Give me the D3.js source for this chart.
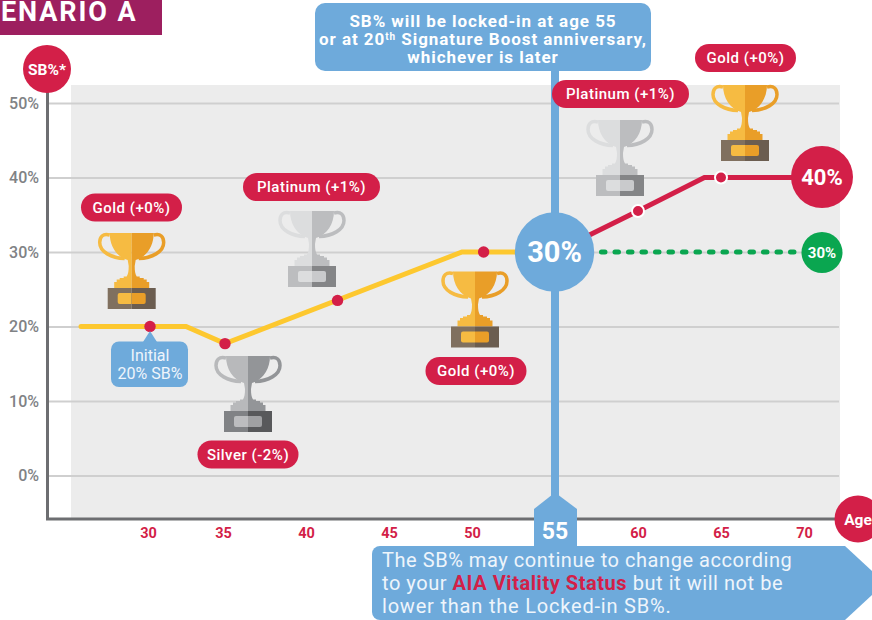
<!DOCTYPE html>
<html>
<head>
<meta charset="utf-8">
<style>
html, body { margin: 0; padding: 0; background: #fff; overflow: hidden; }
svg { display: block; }
text { font-family: Roboto, sans-serif; }
</style>
</head>
<body>
<script src="https://d3js.org/d3.v7.min.js"></script>
<script>

// values
var ageTicks = [30, 35, 40, 45, 50, 55, 60, 65, 70],
    sbTicks = [0, 10, 20, 30, 40, 50];

var yellowAges = [25.4, 32.4, 35, 49.4, 55],
    yellowValues = [20, 20, 17.7, 30, 30];

var redAges = [55, 60, 64, 71],
    redValues = [30, 35.5, 40, 40];

var greenAges = [57.8, 69.4],
    greenValues = [30, 30];

var yellowMarkerAges = [30, 35, 41.9, 50.7],
    yellowMarkerValues = [20, 17.7, 23.5, 30];

var redMarkerAges = [60, 65],
    redMarkerValues = [35.5, 40];

var statusLabels = ['Gold (+0%)', 'Platinum (+1%)', 'Silver (-2%)', 'Gold (+0%)', 'Platinum (+1%)', 'Gold (+0%)'],
    statusTiers = ['gold', 'platinum', 'silver', 'gold', 'platinum', 'gold'];

// where each trophy and pill sits, same order as statusLabels
var trophyX = [131.7, 312, 248, 475, 620, 745],
    trophyY = [233, 211, 356, 271.5, 120, 85],
    pillX = [131.5, 311.5, 248, 476, 620.5, 745.5],
    pillY = [207.5, 187, 454.5, 371, 94, 58];

var tierColors = {
  gold: { l: '#f6bb42', r: '#e99e28', bl: '#80705f', br: '#6b5d50', pl: '#f6bb42', pr: '#e99e28' },
  platinum: { l: '#dcddde', r: '#bcbdbf', bl: '#bcbdbf', br: '#848587', pl: '#dcddde', pr: '#c9cacc' },
  silver: { l: '#b8b9bb', r: '#939598', bl: '#808285', br: '#58595b', pl: '#bcbdbf', pr: '#a0a1a3' }
};

var crimson = '#d31f48',
    blue = '#6eaadb',
    yellow = '#fdc82f',
    green = '#0aa650',
    grey = '#808285';

var width = 872,
    height = 620;

var x = d3.scaleLinear().domain([30, 35, 40, 70]).range([150, 225, 306, 804]),
    y = d3.scaleLinear().domain([0, 50]).range([475.5, 103]);

var svg = d3.select('body').append('svg')
    .attr('width', width)
    .attr('height', height);

// title band
svg.append('rect').attr('x', 0).attr('y', 0).attr('width', 162).attr('height', 35).attr('fill', '#9d1f5f');
svg.append('text').attr('x', 1).attr('y', 21).attr('fill', '#fff')
    .style('font-size', '27px').style('font-weight', 700).style('letter-spacing', '1.9px')
    .text('ENARIO A');

// panel
svg.append('rect').attr('x', 71).attr('y', 85).attr('width', 769).attr('height', 434).attr('fill', '#ececec');

// y axis with gridlines
var yAxis = svg.append('g')
    .attr('transform', 'translate(49,0)')
    .call(d3.axisLeft(y).tickValues(sbTicks).tickSize(-790).tickPadding(10).tickFormat(function(d) { return d + '%'; }));
yAxis.select('.domain').remove();
yAxis.selectAll('line').attr('stroke', '#cfcfcf').attr('stroke-width', 2);
yAxis.selectAll('text').attr('fill', grey).style('font-size', '16px').style('font-weight', 500);

// x axis, labels only
var xAxis = svg.append('g')
    .attr('transform', 'translate(0,519)')
    .call(d3.axisBottom(x).tickValues(ageTicks.filter(function(d) { return d != 55; })).tickSize(0).tickPadding(9).tickFormat(d3.format('d')));
xAxis.select('.domain').remove();
xAxis.selectAll('text')
    .attr('fill', crimson)
    .attr('dx', function(d) { return d < 40 ? -2 : 0; })
    .style('font-size', '14.5px').style('font-weight', 700);

// spines
svg.append('path').attr('d', 'M47.5,92V519H872').attr('fill', 'none').attr('stroke', '#6d6e71').attr('stroke-width', 3);

// trophies
var leftHalf = 'M0,0H-22C-22,13 -15,24 -4,27L-3,33C-3,38 -3.5,41 -5,43.5H-8V45H-12V46.5H-15V49H-17.5V55H0Z',
    leftHandle = 'M-22,2C-29,0 -32,4 -32,9.5C-32,19 -20,25 -7,25.5';

var trophy = svg.selectAll('.trophy')
    .data(statusTiers)
    .enter().append('g')
    .attr('class', 'trophy')
    .attr('transform', function(d, i) { return 'translate(' + trophyX[i] + ',' + trophyY[i] + ')'; });

[[1, 'l', 'bl', 'pl'], [-1, 'r', 'br', 'pr']].forEach(function(side) {
  var half = trophy.append('g').attr('transform', 'scale(' + side[0] + ',1)');
  half.append('path').attr('d', leftHandle).attr('fill', 'none').attr('stroke-width', 3.5)
      .attr('stroke', function(d) { return tierColors[d][side[1]]; });
  half.append('path').attr('d', leftHalf)
      .attr('fill', function(d) { return tierColors[d][side[1]]; });
  half.append('rect').attr('x', -24).attr('y', 55).attr('width', 24).attr('height', 21)
      .attr('fill', function(d) { return tierColors[d][side[2]]; });
  half.append('path').attr('d', 'M0,60H-12a2,2 0 0 0 -2,2V69a2,2 0 0 0 2,2H0Z')
      .attr('fill', function(d) { return tierColors[d][side[3]]; });
});

// locked-in marker: line, arrow and 55
svg.append('line').attr('x1', 555).attr('x2', 555).attr('y1', 60).attr('y2', 500)
    .attr('stroke', blue).attr('stroke-width', 8);
svg.append('path').attr('d', 'M555,492.5L577,509V550H534V509Z').attr('fill', blue);
svg.append('text').attr('x', 555).attr('y', 539).attr('text-anchor', 'middle').attr('fill', '#fff')
    .style('font-size', '23px').style('font-weight', 700).text('55');

// series lines
var line = d3.line().x(function(d) { return x(d[0]); }).y(function(d) { return y(d[1]); });

svg.append('path')
    .attr('d', line(d3.zip(greenAges, greenValues)))
    .attr('fill', 'none').attr('stroke', green).attr('stroke-width', 5)
    .attr('stroke-linecap', 'round').attr('stroke-dasharray', '3.5 10');

svg.append('path')
    .attr('d', line(d3.zip(redAges, redValues)))
    .attr('fill', 'none').attr('stroke', crimson).attr('stroke-width', 5);

svg.append('path')
    .attr('d', line(d3.zip(yellowAges, yellowValues)))
    .attr('fill', 'none').attr('stroke', yellow).attr('stroke-width', 5).attr('stroke-linecap', 'round');

svg.selectAll('.yellow-marker')
    .data(d3.zip(yellowMarkerAges, yellowMarkerValues))
    .enter().append('circle')
    .attr('class', 'yellow-marker')
    .attr('cx', function(d) { return x(d[0]); })
    .attr('cy', function(d) { return y(d[1]); })
    .attr('r', 5.7).attr('fill', crimson);

svg.selectAll('.red-marker')
    .data(d3.zip(redMarkerAges, redMarkerValues))
    .enter().append('circle')
    .attr('class', 'red-marker')
    .attr('cx', function(d) { return x(d[0]); })
    .attr('cy', function(d) { return y(d[1]); })
    .attr('r', 6).attr('fill', crimson).attr('stroke', '#fff').attr('stroke-width', 2);

// big value circles
function bubble(cx, cy, r, fill, label, size) {
  svg.append('circle').attr('cx', cx).attr('cy', cy).attr('r', r).attr('fill', fill);
  svg.append('text').attr('x', cx).attr('y', cy).attr('dy', '0.36em').attr('text-anchor', 'middle').attr('fill', '#fff')
      .style('font-size', size + 'px').style('font-weight', 700).text(label);
}
bubble(554.5, 252, 39.7, blue, '30%', 29);
bubble(822, 177, 31, crimson, '40%', 22);
bubble(822, 252.5, 20.5, green, '30%', 15);
bubble(47, 69, 24, crimson, 'SB%*', 15.5);
bubble(858, 519, 23.5, crimson, 'Age', 15.5);

// status pills
var pill = svg.selectAll('.pill')
    .data(statusLabels)
    .enter().append('g')
    .attr('class', 'pill')
    .attr('transform', function(d, i) { return 'translate(' + pillX[i] + ',' + pillY[i] + ')'; });

pill.append('rect')
    .attr('x', function(d) { return d.indexOf('Platinum') == 0 ? -68.5 : -50.5; })
    .attr('y', -14)
    .attr('width', function(d) { return d.indexOf('Platinum') == 0 ? 137 : 101; })
    .attr('height', 28)
    .attr('rx', 14)
    .attr('fill', crimson);

pill.append('text')
    .attr('text-anchor', 'middle').attr('dy', '0.36em').attr('fill', '#fff')
    .style('font-size', '15px').style('font-weight', 500).style('letter-spacing', '0.5px')
    .text(function(d) { return d; });

// initial callout
svg.append('path').attr('d', 'M150,331L157,342H143Z').attr('fill', blue);
svg.append('rect').attr('x', 111).attr('y', 341.5).attr('width', 77).attr('height', 45.5).attr('rx', 8).attr('fill', blue);
svg.append('text').attr('x', 150).attr('y', 361).attr('text-anchor', 'middle').attr('fill', '#eef5fb')
    .style('font-size', '16px').style('font-weight', 400).text('Initial');
svg.append('text').attr('x', 150).attr('y', 379).attr('text-anchor', 'middle').attr('fill', '#eef5fb')
    .style('font-size', '16px').style('font-weight', 400).text('20% SB%');

// top callout
svg.append('rect').attr('x', 315).attr('y', 3).attr('width', 336).attr('height', 68).attr('rx', 10).attr('fill', blue);
var topNote = svg.append('text').attr('text-anchor', 'middle').attr('fill', '#fff')
    .style('font-size', '17px').style('font-weight', 700).style('letter-spacing', '0.95px');
topNote.append('tspan').attr('x', 483).attr('y', 27).text('SB% will be locked-in at age 55');
var second = topNote.append('tspan').attr('x', 483).attr('y', 45);
second.append('tspan').text('or at 20');
second.append('tspan').attr('dy', -5).style('font-size', '10px').text('th');
second.append('tspan').attr('dy', 5).text(' Signature Boost anniversary,');
topNote.append('tspan').attr('x', 483).attr('y', 63).text('whichever is later');

// bottom callout
svg.append('path')
    .attr('d', 'M380,546H845L885,583L845,620H380a8,8 0 0 1 -8,-8V554a8,8 0 0 1 8,-8Z')
    .attr('fill', blue);
var noteStyle = function(sel) {
  sel.attr('x', 382).attr('fill', '#eef5fb')
      .style('font-size', '20px').style('font-weight', 400).style('letter-spacing', '0.55px');
};
svg.append('text').call(noteStyle).attr('y', 567).text('The SB% may continue to change according');
var middleLine = svg.append('text').call(noteStyle).attr('y', 590);
middleLine.append('tspan').text('to your ');
middleLine.append('tspan').attr('fill', crimson).style('font-weight', 700).text('AIA Vitality Status');
middleLine.append('tspan').text(' but it will not be');
svg.append('text').call(noteStyle).attr('y', 613).style('letter-spacing', '0.8px').text('lower than the Locked-in SB%.');

</script>
</body>
</html>
